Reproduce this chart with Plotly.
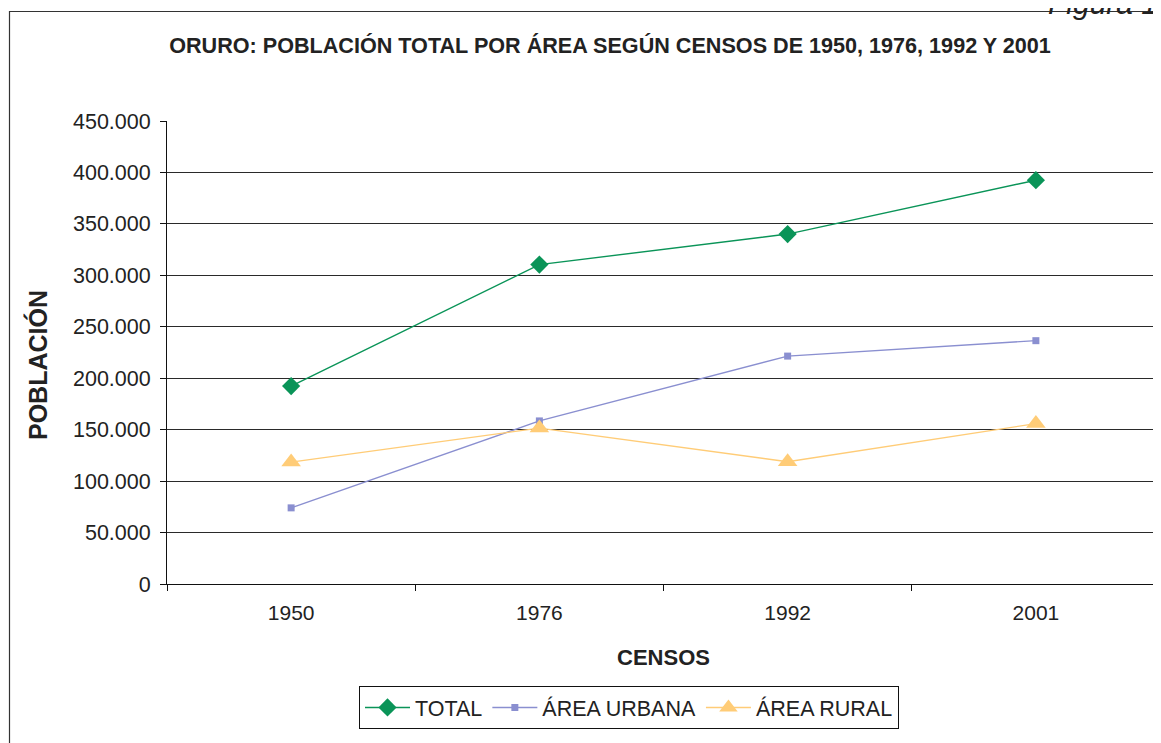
import plotly.graph_objects as go

censos = ["1950", "1976", "1992", "2001"]
total = [192356, 310409, 340114, 392451]
urbana = [74000, 158500, 221500, 236500]
rural = [118500, 151500, 118800, 155900]
y_ticks = [0, 50000, 100000, 150000, 200000, 250000, 300000, 350000, 400000, 450000]

FONT = "Liberation Sans, Arial, sans-serif"
TXT = "#222222"

fig = go.Figure()
fig.add_trace(go.Scatter(x=censos, y=total, name="TOTAL", mode="lines+markers",
                         line=dict(color="#0A9458", width=1.4),
                         marker=dict(symbol="diamond", size=14, color="#0A9458")))
fig.add_trace(go.Scatter(x=censos, y=urbana, name="ÁREA URBANA", mode="lines+markers",
                         line=dict(color="#8A8FD0", width=1.4),
                         marker=dict(symbol="square", size=7, color="#8A8FD0")))
fig.add_trace(go.Scatter(x=censos, y=rural, name="ÁREA RURAL", mode="lines+markers",
                         line=dict(color="#FFCC77", width=1.4),
                         marker=dict(symbol="triangle-up", size=17, color="#FFCC77")))

OFF = 8  # page body margin
W, H = 1161 - OFF, 743 - OFF
L, R, T, B = 159, 1, 113, 159
pw = W - L - R
ph = H - T - B

def px(xpage):
    return (xpage - OFF - L) / pw

def py(ypage):
    return (H - B - (ypage - OFF)) / ph

fig.update_layout(
    width=W, height=H,
    margin=dict(l=L, r=R, t=T, b=B, autoexpand=False),
    paper_bgcolor="white", plot_bgcolor="white",
    separators=",.",
    font=dict(family=FONT, color=TXT, size=21),
    showlegend=True,
    legend=dict(orientation="h", x=px(629), xanchor="center", y=py(686), yanchor="top",
                bordercolor="#111111", borderwidth=1, font=dict(size=21.5, color=TXT),
                bgcolor="white", itemwidth=45, tracegroupgap=0),
    xaxis=dict(type="category", range=[-0.5, 3.5], tickson="boundaries",
               ticks="outside", ticklen=6, tickcolor="#111111", tickwidth=1,
               showline=True, linecolor="#111111", linewidth=1, showgrid=False,
               tickfont=dict(size=21, color=TXT), zeroline=False, ticklabelstandoff=10,
               title=dict(text="<b>CENSOS</b>", font=dict(size=22, color=TXT), standoff=26)),
    yaxis=dict(range=[0, 450000], tickvals=y_ticks, tickformat=",d",
               ticks="outside", ticklen=6, tickcolor="#111111", tickwidth=1,
               showline=True, linecolor="#111111", linewidth=1, ticklabelstandoff=5,
               showgrid=True, gridcolor="#2a2a2a", gridwidth=1, zeroline=False,
               tickfont=dict(size=21.5, color=TXT)),
    title=dict(text="<b>ORURO: POBLACIÓN TOTAL POR ÁREA SEGÚN CENSOS DE 1950, 1976, 1992 Y 2001</b>",
               x=px(610), xanchor="center", xref="paper", y=1 - (45 - OFF) / H, yanchor="middle",
               font=dict(size=21.6, color=TXT)),
    shapes=[
        dict(type="rect", xref="paper", yref="paper", x0=px(9.5), x1=px(1300), y0=py(11.5), y1=py(900),
             line=dict(color="#333333", width=1.2), fillcolor="rgba(0,0,0,0)", layer="below"),
        dict(type="line", xref="paper", yref="paper", x0=1, x1=1, y0=0, y1=1,
             line=dict(color="#cccccc", width=1)),
    ],
    annotations=[
        dict(text="<b>POBLACIÓN</b>", xref="paper", yref="paper", x=px(37), xanchor="center",
             y=py(365), yanchor="middle", textangle=-90, showarrow=False,
             font=dict(size=25, color=TXT)),
        dict(text="<i>Figura 1</i>", xref="paper", yref="paper", x=px(1160), xanchor="right",
             y=py(22), yanchor="bottom", showarrow=False, font=dict(size=30, color=TXT)),
    ],
)

fig.write_html("out.html")
